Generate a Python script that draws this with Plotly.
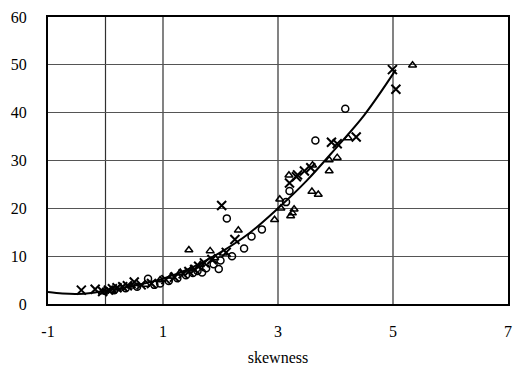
import plotly.graph_objects as go

# Fitted trend curve
curve_x = [-1, -0.75, -0.5, -0.25, 0, 0.5, 1, 1.5, 2, 2.5, 3, 3.5, 4, 4.5, 5.05]
curve_y = [2.5, 2.2, 2.1, 2.3, 2.8, 3.8, 5.3, 7.6, 10.8, 14.8, 20.0, 25.8, 32.5, 39.5, 49.0]

# Series 1: crosses
cross_x = [-0.42, -0.18, -0.05, 0.05, 0.12, 0.2, 0.3, 0.38, 0.5, 0.62, 0.8, 1.05, 1.2, 1.35,
           1.45, 1.55, 1.62, 1.72, 1.85, 2.02, 2.1, 2.25, 3.2, 3.32, 3.34, 3.46, 3.57, 3.93,
           4.03, 4.36, 4.99, 5.05]
cross_y = [2.9, 3.1, 2.6, 2.9, 3.2, 3.4, 3.6, 3.8, 4.6, 4.0, 4.3, 5.1, 5.6, 6.3,
           6.8, 7.2, 7.9, 8.6, 9.3, 20.6, 10.8, 13.5, 25.3, 26.6, 27.0, 27.8, 28.5, 33.8,
           33.5, 34.9, 49.0, 44.9]

# Series 2: triangles
tri_x = [-0.05, 0.1, 0.25, 0.45, 0.7, 0.95, 1.15, 1.3, 1.45, 1.5, 1.65, 1.82, 1.9, 2.05,
         2.31, 2.94, 3.03, 3.05, 3.19, 3.22, 3.25, 3.28, 3.59, 3.6, 3.7, 3.89, 3.89, 4.03,
         4.22, 5.34]
tri_y = [2.5, 2.8, 3.3, 3.7, 4.1, 5.0, 5.8, 6.6, 11.3, 7.3, 8.2, 11.1, 9.6, 10.6,
         15.4, 17.6, 21.9, 20.0, 26.9, 18.4, 19.0, 19.8, 23.5, 29.0, 22.9, 27.8, 30.1, 30.6,
         34.7, 49.9]

# Series 3: circles
circ_x = [0.0, 0.15, 0.35, 0.55, 0.74, 0.85, 0.95, 1.1, 1.25, 1.4, 1.52, 1.6, 1.68, 1.75,
          1.88, 1.97, 2.0, 2.11, 2.2, 2.41, 2.54, 2.72, 3.14, 3.2, 3.65, 4.17]
circ_y = [2.7, 2.9, 3.3, 3.6, 5.3, 4.0, 4.3, 4.8, 5.4, 6.0, 6.5, 6.9, 6.6, 7.5,
          8.3, 7.3, 9.1, 17.9, 10.0, 11.6, 14.1, 15.6, 21.3, 23.6, 34.2, 40.8]

x_ticks = [-1, 1, 3, 5, 7]
x_grid = [0, 1, 3, 5]

FONT = "Liberation Serif, Times New Roman, DejaVu Serif, serif"

fig = go.Figure()
fig.add_trace(go.Scatter(x=curve_x, y=curve_y, mode="lines", line=dict(color="black", width=2, shape="spline"),
                         hoverinfo="skip"))
fig.add_trace(go.Scatter(x=circ_x, y=circ_y, mode="markers",
                         marker=dict(symbol="circle-open", size=7, color="black", line=dict(width=1.5))))
fig.add_trace(go.Scatter(x=tri_x, y=tri_y, mode="markers",
                         marker=dict(symbol="triangle-up-open", size=7, color="black", line=dict(width=1.5))))
fig.add_trace(go.Scatter(x=cross_x, y=cross_y, mode="markers",
                         marker=dict(symbol="x-thin-open", size=9, color="black", line=dict(width=2))))

for gx in x_grid:
    fig.add_shape(type="line", xref="x", yref="paper", x0=gx, x1=gx, y0=0, y1=1,
                  line=dict(color="#303030", width=1.2), layer="below")

fig.update_layout(
    width=513, height=366,
    margin=dict(l=48, r=1, t=17, b=61),
    paper_bgcolor="white", plot_bgcolor="white",
    showlegend=False,
    font=dict(family=FONT, size=16, color="black"),
    xaxis=dict(range=[-1, 7], tickvals=x_ticks, ticktext=[str(v) for v in x_ticks],
               showgrid=False, zeroline=False, showline=True, mirror=True,
               linecolor="black", linewidth=2, ticks="", ticklabelstandoff=12,
               ticklabeloverflow="allow",
               tickfont=dict(family=FONT, size=16),
               title=dict(text="skewness", font=dict(family=FONT, size=16), standoff=14)),
    yaxis=dict(range=[0, 60], dtick=10, showgrid=True, gridcolor="#555555", gridwidth=1,
               zeroline=False, showline=True, mirror=True, linecolor="black", linewidth=2,
               ticks="", ticklabelstandoff=16, tickfont=dict(family=FONT, size=16)),
)

fig.write_html("out.html", config={"displayModeBar": False},
               post_script="document.body.style.margin='0';document.body.style.overflow='hidden';")
